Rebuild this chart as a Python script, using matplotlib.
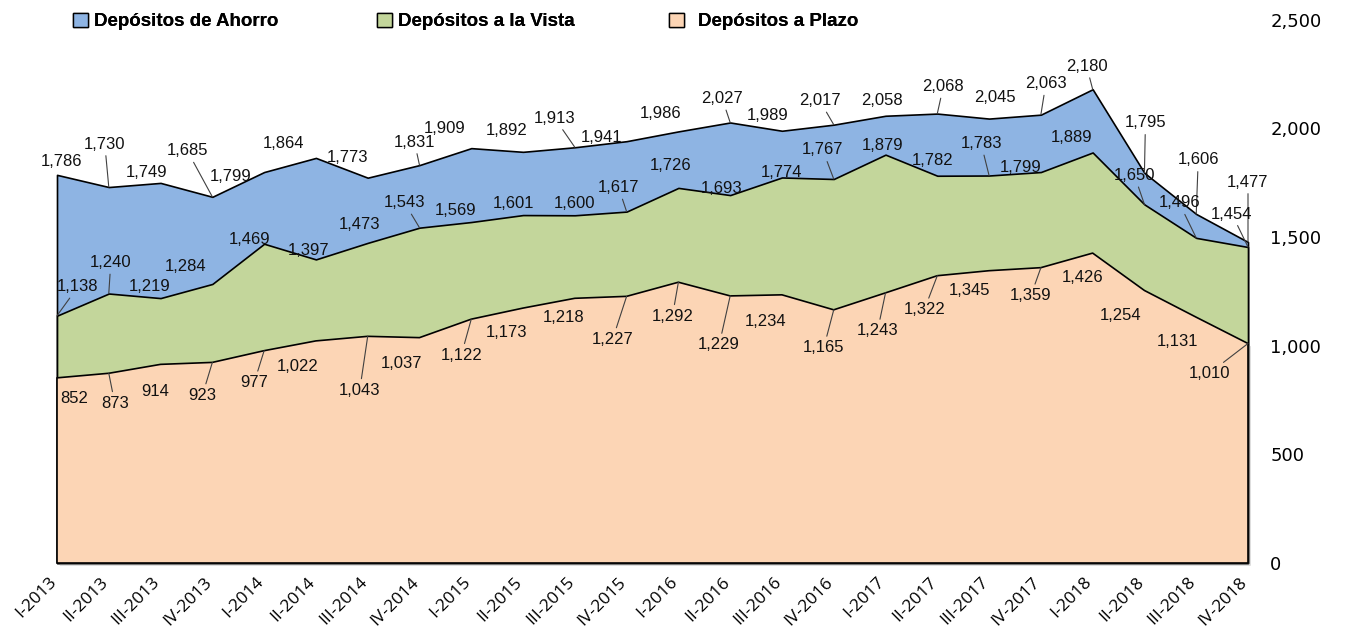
import numpy as np
import matplotlib
matplotlib.use("Agg")
import matplotlib.pyplot as plt
import matplotlib.patheffects as pe
import matplotlib.transforms as mtransforms
from matplotlib.patches import Patch

# ---------------- data ----------------
quarters = ["I-2013", "II-2013", "III-2013", "IV-2013",
            "I-2014", "II-2014", "III-2014", "IV-2014",
            "I-2015", "II-2015", "III-2015", "IV-2015",
            "I-2016", "II-2016", "III-2016", "IV-2016",
            "I-2017", "II-2017", "III-2017", "IV-2017",
            "I-2018", "II-2018", "III-2018", "IV-2018"]

ahorro = [1786, 1730, 1749, 1685, 1799, 1864, 1773, 1831, 1909, 1892, 1913, 1941,
          1986, 2027, 1989, 2017, 2058, 2068, 2045, 2063, 2180, 1795, 1606, 1477]
vista = [1138, 1240, 1219, 1284, 1469, 1397, 1473, 1543, 1569, 1601, 1600, 1617,
         1726, 1693, 1774, 1767, 1879, 1782, 1783, 1799, 1889, 1650, 1496, 1454]
plazo = [852, 873, 914, 923, 977, 1022, 1043, 1037, 1122, 1173, 1218, 1227,
         1292, 1229, 1234, 1165, 1243, 1322, 1345, 1359, 1426, 1254, 1131, 1010]

series_names = ["Depósitos de Ahorro", "Depósitos a la Vista", "Depósitos a Plazo"]
yticks = [0, 500, 1000, 1500, 2000, 2500]

# label placement offsets in pixels (dx right, dy down) relative to each point
off_ahorro = [(5, -13), (-4, -43), (-14, -10), (-25, -46), (-34, 4), (-32, -14),
              (-20, -20), (-5, -23), (-27, -20), (-16, -21), (-20, -29), (-25, -4),
              (-18, -18), (-8, -24), (-14, -15), (-14, -24), (-4, -15), (6, -27),
              (6, -21), (5, -31), (-6, -23), (1, -50), (2, -54), (0, -60)]
off_vista = [(21, -29), (2, -31), (-11, -12), (-27, -17), (-15, -4), (-7, -9),
             (-8, -18), (-15, -25), (-16, -12), (-10, -12), (0, -12), (-8, -24),
             (-8, -22), (-9, -7), (0, -5), (-11, -29), (-3, -9), (-5, -15),
             (-8, -32), (-20, -5), (-21, -15), (-10, -29), (-17, -35), (-16, -33)]
off_plazo = [(17, 21), (6, 30), (-5, 27), (-10, 33), (-10, 32), (-18, 26),
             (-8, 54), (-18, 26), (-10, 36), (-17, 24), (-11, 19), (-14, 43),
             (-6, 34), (-11, 49), (-16, 27), (-10, 38), (-8, 38), (-13, 34),
             (-20, 20), (-10, 28), (-10, 24), (-24, 25), (-19, 24), (-39, 30)]

colors = ["#8EB4E3", "#C3D69B", "#FCD5B5"]

# ---------------- figure ----------------
W, H = 1345, 634
fig = plt.figure(figsize=(W / 100, H / 100), dpi=100)
ax = fig.add_axes([57 / W, 71 / H, 1191 / W, 543.3 / H])

x = np.arange(len(quarters))
for i, (vals, col) in enumerate(zip([ahorro, vista, plazo], colors)):
    coll = ax.fill_between(x, 0, vals, facecolor=col, edgecolor="black",
                           linewidth=1.2, clip_on=False, zorder=2)
    if i == 2:
        coll.set_path_effects([pe.SimplePatchShadow(offset=(2, -2),
                                                    shadow_rgbFace="#888888",
                                                    alpha=0.35),
                               pe.Normal()])

ax.set_xlim(0, len(quarters) - 1)
ax.set_ylim(0, 2500)
for s in ax.spines.values():
    s.set_visible(False)

ax.yaxis.tick_right()
ax.set_yticks(yticks)
ax.set_yticklabels([f"{v:,}" for v in yticks], family="DejaVu Sans", fontsize=13)
ax.tick_params(axis="y", length=0, pad=16)

ax.set_xticks(x)
ax.set_xticklabels(quarters, rotation=45, ha="right", va="center",
                   rotation_mode="anchor", family="Open Sans", fontsize=12.5)
ax.tick_params(axis="x", length=0, pad=12)
shift = mtransforms.ScaledTranslation(-3 / 100, 0, fig.dpi_scale_trans)
for lab in ax.get_xticklabels():
    lab.set_transform(lab.get_transform() + shift)

# data labels
def add_labels(vals, offs, thresh):
    for xi, v, (dx, dy) in zip(x, vals, offs):
        leader = abs(dy) >= thresh
        ax.annotate(f"{v:,}", xy=(xi, v), xytext=(dx, -dy),
                    textcoords="offset pixels", ha="center", va="center",
                    family="Liberation Sans", fontsize=12, color="#111111",
                    zorder=5, annotation_clip=False,
                    arrowprops=dict(arrowstyle="-", color="#404040", lw=0.8,
                                    shrinkA=1, shrinkB=0) if leader else None)

add_labels(ahorro, off_ahorro, 23)
add_labels(vista, off_vista, 23)
add_labels(plazo, off_plazo, 28)

# legend (one entry each, placed like the original)
legend_x = [73, 377, 669]
legend_pad = [0.35, 0.35, 0.75]
for name, col, lx, tp in zip(series_names, colors, legend_x, legend_pad):
    leg = fig.legend([Patch(facecolor=col, edgecolor="black", linewidth=1.0)], [name],
                     loc="center left", bbox_to_anchor=(lx / W, 1 - 21.5 / H),
                     frameon=False,
                     prop=dict(family="Liberation Sans", weight="bold", size=13.5),
                     handlelength=0.78, handleheight=0.78, handletextpad=tp,
                     borderpad=0, borderaxespad=0)
    fig.add_artist(leg)

fig.savefig("out.png", dpi=100)
